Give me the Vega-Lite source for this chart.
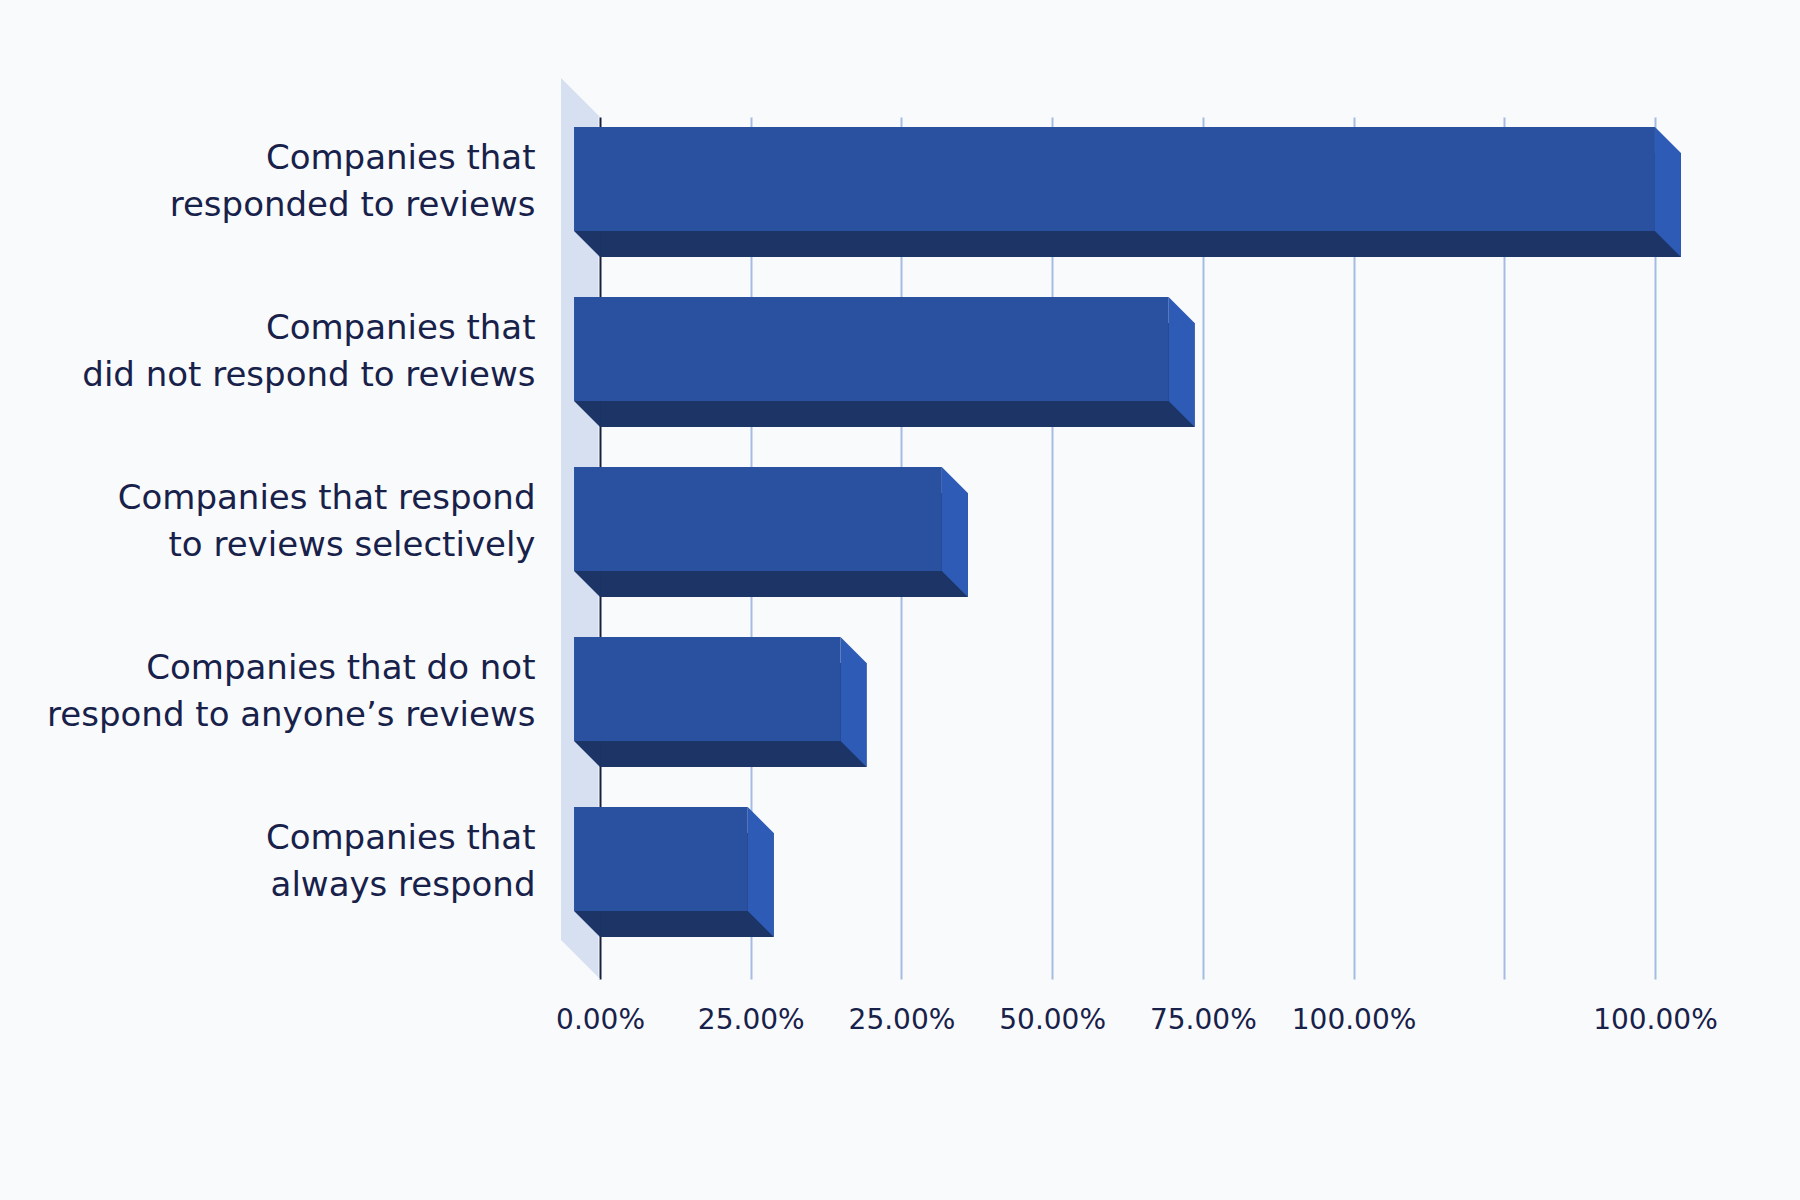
{
  "$schema": "https://vega.github.io/schema/vega-lite/v6.json",
  "description": "Share of companies by review-response behaviour, drawn as pseudo-3D horizontal bars.",
  "width": 1139,
  "height": 862,
  "autosize": {"type": "none"},
  "padding": {"left": 561, "top": 117, "right": 100, "bottom": 221},
  "background": "#f9fafc",
  "config": {"view": {"stroke": null}, "font": "DejaVu Sans"},
  "data": {
    "values": [
      {"category": "Companies that|responded to reviews", "share": 100},
      {"category": "Companies that|did not respond to reviews", "share": 53.9},
      {"category": "Companies that respond|to reviews selectively", "share": 32.4},
      {"category": "Companies that do not|respond to anyone’s reviews", "share": 22.8},
      {"category": "Companies that|always respond", "share": 14.0}
    ]
  },
  "layer": [
    {
      "data": {"values": [{}]},
      "mark": {"type": "rect", "color": "#d6e0f0"},
      "encoding": {
        "x": {"datum": -3.7, "type": "quantitative", "title": null},
        "x2": {"datum": -0.15}
      }
    },
    {
      "data": {"values": [{}]},
      "mark": {"type": "point", "shape": "M-1,-1L1,1L-1,1Z", "size": 1521, "filled": true, "opacity": 1, "color": "#d6e0f0", "strokeWidth": 0, "yOffset": -450.5},
      "encoding": {
        "x": {"datum": -1.85, "type": "quantitative", "title": null}
      }
    },
    {
      "data": {"values": [{}]},
      "mark": {"type": "point", "shape": "M-1,-1L-1,1L1,1Z", "size": 1521, "filled": true, "opacity": 1, "color": "#f9fafc", "strokeWidth": 0, "yOffset": 411.5},
      "encoding": {
        "x": {"datum": -1.85, "type": "quantitative", "title": null}
      }
    },
    {
      "mark": {"type": "bar", "color": "#1c3566", "height": 104, "yOffset": -3, "xOffset": 26},
      "encoding": {
        "x": {"field": "share", "type": "quantitative", "title": null},
        "x2": {"datum": 0},
        "y": {"field": "category", "type": "nominal", "sort": null, "title": null}
      }
    },
    {
      "mark": {"type": "bar", "color": "#2d5bb6", "height": 78, "yOffset": -16, "xOffset": 26},
      "encoding": {
        "x": {"field": "share", "type": "quantitative", "title": null},
        "x2": {"field": "share"},
        "y": {"field": "category", "type": "nominal", "sort": null, "title": null}
      }
    },
    {
      "mark": {"type": "point", "shape": "M-1,-1L1,1L-1,1Z", "size": 676, "filled": true, "opacity": 1, "color": "#2d5bb6", "strokeWidth": 0, "xOffset": 13, "yOffset": -68},
      "encoding": {
        "x": {"field": "share", "type": "quantitative", "title": null},
        "y": {"field": "category", "type": "nominal", "sort": null, "title": null}
      }
    },
    {
      "mark": {"type": "point", "shape": "M-1,-1L1,-1L1,1Z", "size": 676, "filled": true, "opacity": 1, "color": "#2d5bb6", "strokeWidth": 0, "xOffset": 13, "yOffset": 36},
      "encoding": {
        "x": {"field": "share", "type": "quantitative", "title": null},
        "y": {"field": "category", "type": "nominal", "sort": null, "title": null}
      }
    },
    {
      "mark": {"type": "point", "shape": "M-1,-1L1,-1L1,1Z", "size": 676, "filled": true, "opacity": 1, "color": "#1c3566", "strokeWidth": 0, "xOffset": -13, "yOffset": 36},
      "encoding": {
        "x": {"datum": 0, "type": "quantitative", "title": null},
        "y": {"field": "category", "type": "nominal", "sort": null, "title": null}
      }
    },
    {
      "mark": {"type": "bar", "color": "#29519f", "height": 104, "yOffset": -29, "x2Offset": -26},
      "encoding": {
        "x": {
          "field": "share",
          "type": "quantitative",
          "title": null,
          "scale": {"domain": [-3.7, 104.27], "nice": false, "zero": false},
          "axis": {
            "values": [0, 14.2857, 28.5714, 42.8571, 57.1429, 71.4286, 85.7143, 100],
            "labelExpr": "['0.00%','25.00%','25.00%','50.00%','75.00%','100.00%','','100.00%'][round(datum.value * 7 / 100)]",
            "grid": true,
            "gridColor": {"condition": {"test": "datum.value === 0", "value": "#16203f"}, "value": "#a5bce0"},
            "gridWidth": 2,
            "ticks": false,
            "domain": false,
            "labelFont": "DejaVu Sans",
            "labelFontSize": 28,
            "labelColor": "#17214a",
            "labelPadding": 27,
            "labelOverlap": false,
            "labelFlush": false
          }
        },
        "x2": {"datum": 0},
        "y": {
          "field": "category",
          "type": "nominal",
          "sort": null,
          "title": null,
          "scale": {"type": "band", "paddingInner": 0, "paddingOuter": 0.0353, "align": 0.5},
          "axis": {
            "labelExpr": "split(datum.label, '|')",
            "ticks": false,
            "domain": false,
            "grid": false,
            "labelFont": "DejaVu Sans",
            "labelFontSize": 34,
            "labelColor": "#17214a",
            "labelPadding": 26,
            "labelLimit": 0,
            "labelLineHeight": 47,
            "labelOffset": -49,
            "labelAlign": "right",
            "labelBaseline": "middle"
          }
        }
      }
    }
  ]
}
